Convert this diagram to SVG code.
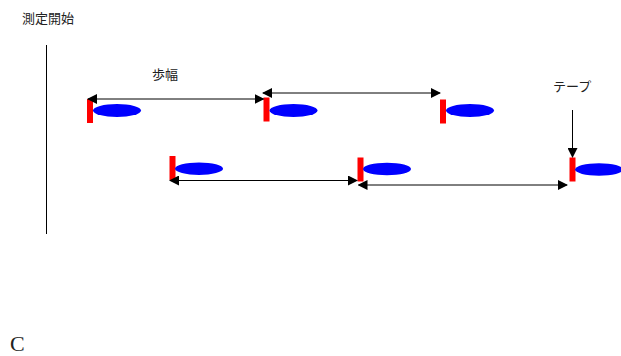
<svg xmlns="http://www.w3.org/2000/svg" width="621" height="356" viewBox="0 0 621 356">
<style>
.t{font-family:"Liberation Serif","Noto Sans CJK JP",serif;font-size:13px;fill:#222}
.flag{fill:#ff0000}
.foot{fill:#0000ff}
.ln{stroke:#000;stroke-width:1;fill:none}
</style>
<defs>
<marker id="ah" markerUnits="userSpaceOnUse" markerWidth="10" markerHeight="10" refX="9" refY="5" orient="auto-start-reverse">
<path d="M0,0 L10,5 L0,10 z" fill="#000"/>
</marker>
</defs>
<rect width="621" height="356" fill="#fff"/>
<line x1="46.5" y1="45" x2="46.5" y2="234" stroke="#000" stroke-width="1"/>
<text class="t" x="22" y="23">測定開始</text>
<text class="t" x="152" y="79">歩幅</text>
<text class="t" x="553" y="91">テープ</text>
<text x="10" y="351" style="font-family:'Liberation Serif',serif;font-size:22px;fill:#222">C</text>
<g id="step1"><rect class="flag" x="87" y="99" width="6" height="24"/><ellipse class="foot" cx="117" cy="110.5" rx="24" ry="6.5"/></g>
<g id="step2"><rect class="flag" x="263.5" y="97.5" width="6" height="24"/><ellipse class="foot" cx="293.5" cy="110.5" rx="24" ry="6.5"/></g>
<g id="step3"><rect class="flag" x="440" y="99.5" width="6" height="24"/><ellipse class="foot" cx="470" cy="110.5" rx="24" ry="6.5"/></g>
<g id="step4"><rect class="flag" x="169.5" y="156" width="6" height="24"/><ellipse class="foot" cx="199" cy="168.7" rx="24" ry="6.2"/></g>
<g id="step5"><rect class="flag" x="357.5" y="157.5" width="6" height="24"/><ellipse class="foot" cx="387" cy="169" rx="24" ry="6.3"/></g>
<g id="step6"><rect class="flag" x="569.5" y="157.5" width="6" height="24"/><ellipse class="foot" cx="599" cy="169.5" rx="24" ry="6.2"/></g>
<g id="connectors">
<line class="ln" x1="88" y1="99" x2="263.5" y2="99" stroke="#666" marker-start="url(#ah)" marker-end="url(#ah)"/>
<line class="ln" x1="263" y1="93" x2="440" y2="93" stroke="#666" marker-start="url(#ah)" marker-end="url(#ah)"/>
<line class="ln" x1="170" y1="180.5" x2="357" y2="180.5" marker-start="url(#ah)" marker-end="url(#ah)"/>
<line class="ln" x1="358.5" y1="185" x2="567" y2="185" marker-start="url(#ah)" marker-end="url(#ah)"/>
<line class="ln" x1="572.5" y1="110" x2="572.5" y2="157" marker-end="url(#ah)"/>
</g>
</svg>
